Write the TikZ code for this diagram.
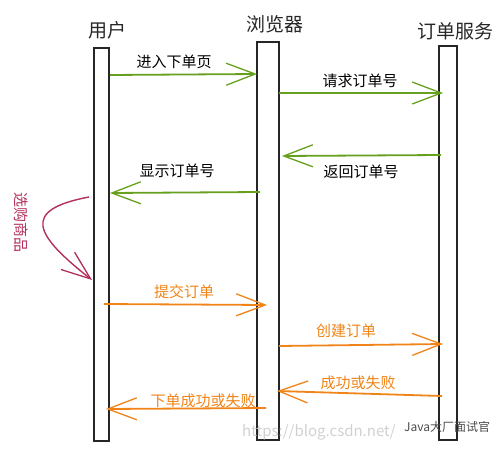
\documentclass[tikz,border=0pt]{standalone}
\usepackage{fontspec}
\setmainfont{Noto Sans CJK SC}
\usetikzlibrary{arrows.meta}
\definecolor{sgreen}{RGB}{102,160,30}
\definecolor{sorange}{RGB}{240,132,24}
\definecolor{scrimson}{RGB}{178,48,92}
\tikzset{
  life/.style={draw=black!85, line width=1.3pt, fill=white, inner sep=0pt},
  title/.style={font=\fontsize{19}{19}\selectfont, text=black!85, inner sep=0pt},
  lbl/.style={font=\fontsize{15}{15}\selectfont, inner sep=0pt},
  barb/.style={-{Straight Barb[length=29pt, width=22pt, line width=1.3pt]}, line width=1.8pt},
  gmsg/.style={barb, draw=sgreen},
  omsg/.style={barb, draw=sorange},
}
\begin{document}
\begin{tikzpicture}[x=1pt,y=-1pt]
\useasboundingbox (0,0) rectangle (504,450);
% lifelines
\node[life, minimum width=15pt, minimum height=393pt] (u) at (101.5,244.5) {};
\node[life, minimum width=22pt, minimum height=398pt] (b) at (268,241) {};
\node[life, minimum width=18pt, minimum height=394pt] (s) at (448,243) {};
% titles
\node[title] (tu) at (107,30) {用户};
\node[title] (tb) at (275,24) {浏览器};
\node[title] (ts) at (455,31) {订单服务};
% watermark
\node[font=\fontsize{15}{15}\selectfont, text=black!18, anchor=west, inner sep=0pt] (wm) at (242,432) {https://blog.csdn.net/};
\node[font=\fontsize{12}{12}\selectfont, text=black!70, anchor=west, inner sep=0pt] (wj) at (404,427) {Java大厂面试官};
% endpoints
\coordinate (m1s) at (110,75);  \coordinate (m1e) at (257,74);
\coordinate (m2s) at (279,93);  \coordinate (m2e) at (443,93);
\coordinate (m3s) at (441,155); \coordinate (m3e) at (282,156);
\coordinate (m4s) at (260,192); \coordinate (m4e) at (110,193);
\coordinate (m6s) at (104,304); \coordinate (m6e) at (267,305);
\coordinate (m7s) at (279,346); \coordinate (m7e) at (443,344);
\coordinate (m8s) at (442,396); \coordinate (m8e) at (277,391);
\coordinate (m9s) at (266,408); \coordinate (m9e) at (106,409);
\coordinate (cs) at (89,197);   \coordinate (ce) at (92,280);
% green messages
\draw[gmsg] (m1s) -- (m1e);
\node[lbl] (l1) at (174,62) {进入下单页};
\draw[gmsg] (m2s) -- (m2e);
\node[lbl] (l2) at (360,81) {请求订单号};
\draw[gmsg] (m3s) -- (m3e);
\node[lbl] (l3) at (361,172) {返回订单号};
\draw[gmsg] (m4s) -- (m4e);
\node[lbl] (l4) at (177,171) {显示订单号};
% self note
\draw[barb, draw=scrimson, line width=1.4pt] (cs) .. controls (20,210) and (35,235) .. (ce);
\node[lbl, text=scrimson, rotate=-90] (l5) at (21,222) {选购商品};
% orange messages
\draw[omsg] (m6s) -- (m6e);
\node[lbl, text=sorange] (l6) at (184,292) {提交订单};
\draw[omsg] (m7s) -- (m7e);
\node[lbl, text=sorange] (l7) at (346,331) {创建订单};
\draw[omsg] (m8s) -- (m8e);
\node[lbl, text=sorange] (l8) at (358,383) {成功或失败};
\draw[omsg] (m9s) -- (m9e);
\node[lbl, text=sorange] (l9) at (203,401) {下单成功或失败};
\end{tikzpicture}
\end{document}
